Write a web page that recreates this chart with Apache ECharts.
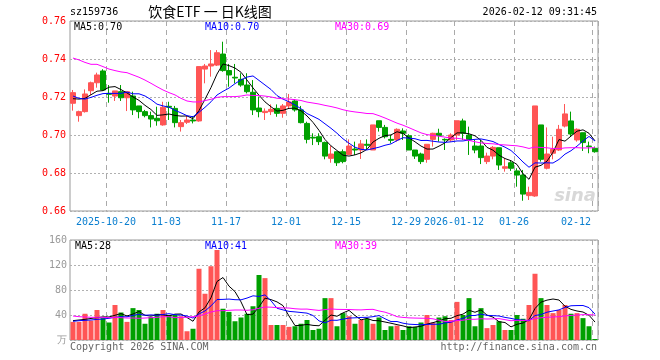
<!DOCTYPE html>
<html><head><meta charset="utf-8">
<script src="https://cdn.jsdelivr.net/npm/echarts@6/dist/echarts.min.js"></script>
<style>html,body{margin:0;padding:0;background:#fff}#c{width:660px;height:360px}</style>
</head><body><div id="c"></div>
<script>
const dates = [
 '2025-10-10','2025-10-13','2025-10-14','2025-10-15','2025-10-16','2025-10-17','2025-10-20','2025-10-21','2025-10-22','2025-10-23','2025-10-24','2025-10-27','2025-10-28','2025-10-29','2025-10-30','2025-10-31',
 '2025-11-03','2025-11-04','2025-11-05','2025-11-06','2025-11-07','2025-11-10','2025-11-11','2025-11-12','2025-11-13','2025-11-14','2025-11-17','2025-11-18','2025-11-19','2025-11-20','2025-11-21','2025-11-24','2025-11-25','2025-11-26','2025-11-27','2025-11-28',
 '2025-12-01','2025-12-02','2025-12-03','2025-12-04','2025-12-05','2025-12-08','2025-12-09','2025-12-10','2025-12-11','2025-12-12','2025-12-15','2025-12-16','2025-12-17','2025-12-18','2025-12-19','2025-12-22','2025-12-23','2025-12-24','2025-12-25','2025-12-26','2025-12-29','2025-12-30','2025-12-31',
 '2026-01-05','2026-01-06','2026-01-07','2026-01-08','2026-01-09','2026-01-12','2026-01-13','2026-01-14','2026-01-15','2026-01-16','2026-01-19','2026-01-20','2026-01-21','2026-01-22','2026-01-23','2026-01-26','2026-01-27','2026-01-28','2026-01-29','2026-01-30',
 '2026-02-02','2026-02-03','2026-02-04','2026-02-05','2026-02-06','2026-02-09','2026-02-10','2026-02-11','2026-02-12'
];
const opens = [0.7167,0.7102,0.7123,0.7233,0.7275,0.7337,0.7219,0.7205,0.7228,0.7196,0.7205,0.7153,0.7123,0.7102,0.7088,0.7053,0.7151,0.7140,0.7044,0.7067,
 0.7079,0.7074,0.7347,0.7363,0.7368,0.7426,0.7339,0.7304,0.7293,0.7263,0.7225,0.7142,0.7118,0.7123,0.7140,0.7114,0.7153,0.7179,0.7132,0.7061,
 0.6988,0.6991,0.6961,0.6877,0.6912,0.6912,0.6898,0.6926,0.6921,0.6951,0.6921,0.7075,0.7040,0.6977,0.6974,0.7021,0.6996,0.6921,0.6900,0.6872,
 0.6977,0.7009,0.6977,0.6974,0.7000,0.7074,0.7000,0.6942,0.6942,0.6860,0.6889,0.6933,0.6825,0.6854,0.6811,0.6789,0.6681,0.6679,0.7053,0.6825,
 0.6904,0.6921,0.7047,0.7074,0.6974,0.7012,0.6942,0.6930];
const closes = [0.7223,0.7123,0.7216,0.7275,0.7316,0.7237,0.7214,0.7232,0.7196,0.7228,0.7132,0.7123,0.7102,0.7084,0.7075,0.7146,0.7146,0.7065,0.7065,0.7079,
 0.7074,0.7360,0.7363,0.7374,0.7433,0.7339,0.7316,0.7300,0.7263,0.7228,0.7132,0.7123,0.7125,0.7135,0.7114,0.7153,0.7174,0.7132,0.7065,0.6977,
 0.6984,0.6965,0.6889,0.6900,0.6854,0.6860,0.6942,0.6921,0.6953,0.6946,0.7053,0.7040,0.6991,0.6972,0.7030,0.7009,0.6921,0.6889,0.6860,0.6951,
 0.7009,0.6998,0.6974,0.7000,0.7075,0.7009,0.6974,0.6921,0.6881,0.6889,0.6935,0.6842,0.6833,0.6825,0.6789,0.6689,0.6698,0.7153,0.6872,0.6900,
 0.6925,0.7030,0.7111,0.7005,0.7030,0.6960,0.6939,0.6912];
const lows = [0.7128,0.7070,0.7118,0.7211,0.7249,0.7233,0.7170,0.7179,0.7179,0.7126,0.7105,0.7088,0.7093,0.7040,0.7049,0.7049,0.7079,0.7040,0.7018,0.7058,
 0.7061,0.7070,0.7272,0.7307,0.7363,0.7333,0.7254,0.7272,0.7254,0.7219,0.7105,0.7093,0.7079,0.7105,0.7096,0.7091,0.7140,0.7123,0.7061,0.6956,
 0.6947,0.6947,0.6872,0.6854,0.6837,0.6851,0.6895,0.6895,0.6874,0.6921,0.6921,0.7018,0.6982,0.6956,0.6965,0.6974,0.6921,0.6874,0.6847,0.6854,
 0.6939,0.6965,0.6921,0.6965,0.6974,0.6974,0.6895,0.6904,0.6847,0.6847,0.6872,0.6816,0.6807,0.6811,0.6728,0.6654,0.6658,0.6675,0.6860,0.6819,
 0.6872,0.6916,0.7040,0.6991,0.6965,0.6916,0.6904,0.6907];
const highs = [0.7237,0.7128,0.7240,0.7281,0.7328,0.7346,0.7263,0.7232,0.7263,0.7228,0.7228,0.7153,0.7132,0.7123,0.7149,0.7175,0.7175,0.7153,0.7079,0.7105,
 0.7100,0.7360,0.7374,0.7447,0.7447,0.7491,0.7374,0.7374,0.7325,0.7325,0.7289,0.7202,0.7140,0.7161,0.7161,0.7163,0.7216,0.7188,0.7153,0.7070,
 0.7009,0.7009,0.6965,0.6942,0.6912,0.6924,0.6977,0.6965,0.6974,0.6977,0.7053,0.7075,0.7053,0.7000,0.7035,0.7035,0.7004,0.6921,0.6907,0.6951,
 0.7012,0.7033,0.6982,0.7009,0.7075,0.7086,0.7044,0.6974,0.6974,0.6907,0.6942,0.6933,0.6877,0.6868,0.6825,0.6816,0.6728,0.7153,0.7053,0.7040,
 0.6991,0.7053,0.7163,0.7123,0.7035,0.7012,0.6965,0.6939];
const volumes = [29,29,42,31,48,35,28,56,44,29,51,48,26,37,42,48,40,40,38,14,
 18,114,74,118,144,50,45,30,36,42,54,104,99,24,24,24,21,22,26,32,
 16,18,67,67,22,43,38,26,32,34,26,36,16,22,23,16,22,21,28,40,
 28,36,38,32,61,40,67,22,51,19,24,30,16,16,40,34,56,106,67,56,
 43,48,56,42,43,35,22,1.6];
// moving-average values before enough history is visible
const ma5Head = [0.7191,0.7189,0.7193,0.7212];
const ma10Head = [0.7205,0.7193,0.7189,0.7198,0.7209,0.7218,0.7219,0.7219,0.7219];
const ma30Head = [0.7405,0.7395,0.7382,0.7372,0.7372,0.7360,0.7347,0.7339,0.7332,0.7328,0.7316,0.7304,0.7289,0.7272,0.7254,0.7237,0.7223,0.7211,0.7193,0.7179,
 0.7174,0.7174,0.7181,0.7188,0.7198,0.7202,0.7202,0.7202,0.7205];
const volMa5Head = [31,32,33,34.5];
const volMa10Head = [29.9,30.9,31.5,32,33,33.6,34.7,36.3,37.3];
const volMa30Head = [38.4,37.3,36.8,36.3,36.3,36.3,35.7,36.3,35.7,35.2,35.2,34.7,35.2,35.7,36.3,37.3,37.3,35.7,36.3,36.3,
 37.3,38.4,41.6,44.8,46.9,46.9,47.5,48.0,48.0];
const tickDates = ['2025-10-20','2025-11-03','2025-11-17','2025-12-01','2025-12-15','2025-12-29','2026-01-12','2026-01-26','2026-02-12'];
const tickTexts = ['2025-10-20','11-03','11-17','12-01','12-15','12-29','2026-01-12','01-26','02-12'];
const priceLegend = ['MA5:0.70','MA10:0.70','MA30:0.69'];
const volLegend = ['MA5:28','MA10:41','MA30:39'];
const titleCode = 'sz159736';
const titleText = '饮食ETF 一 日K线图';
const timeText = '2026-02-12 09:31:45';

const RED = '#ff5555', GREEN = '#00a000';
const MONO = '"DejaVu Sans Mono", monospace';
function movingAvg(vals, n, head) {
  return vals.map((v, i) => {
    if (i < n - 1) return head[i];
    let s = 0; for (let k = i - n + 1; k <= i; k++) s += vals[k];
    return +(s / n).toFixed(5);
  });
}
const tickIdx = tickDates.map(d => dates.indexOf(d));
const isTick = i => tickIdx.indexOf(i) >= 0;
const lastIdx = dates.length - 1;
const candleData = dates.map((d, i) => [opens[i], closes[i], lows[i], highs[i]]);
const volData = volumes.map((v, i) => ({value: v, itemStyle: {color: closes[i] >= opens[i] ? RED : GREEN}}));

const vDash = {show: true, interval: (i) => isTick(i), lineStyle: {color: '#aaa', type: [5, 4], width: 1}};
const hDot = {show: true, lineStyle: {color: '#b0b0b0', type: [2, 2], width: 1}};
const lineS = (name, data, color, xi, yi) => ({name, type: 'line', data, xAxisIndex: xi, yAxisIndex: yi, symbol: 'none', smooth: false,
  lineStyle: {color, width: 1}, itemStyle: {color}, silent: true, animation: false, z: 5});

const chart = echarts.init(document.getElementById('c'), null, {renderer: 'canvas'});
chart.setOption({
  animation: false,
  backgroundColor: '#fff',
  grid: [
    {left: 70, top: 21, width: 528, height: 190, show: true, borderColor: '#999', borderWidth: 1, backgroundColor: 'transparent'},
    {left: 70, top: 240, width: 528, height: 100, show: true, borderColor: '#999', borderWidth: 1, backgroundColor: 'transparent'}
  ],
  xAxis: [
    {type: 'category', gridIndex: 0, data: dates, boundaryGap: true,
     axisLine: {show: false}, axisTick: {show: false}, splitLine: vDash,
     axisLabel: {show: true, interval: (i) => isTick(i), color: '#0a7fd0', fontFamily: MONO, fontSize: 10, margin: 6,
       formatter: (v, i) => { const t = tickTexts[tickIdx.indexOf(i)]; return i === lastIdx ? '{b|' + t + '}' : '{a|' + t + '}'; },
       rich: {a: {padding: [0, 6, 0, 0], color: '#0a7fd0', fontFamily: MONO, fontSize: 10},
              b: {padding: [0, 38, 0, 0], color: '#0a7fd0', fontFamily: MONO, fontSize: 10}}}},
    {type: 'category', gridIndex: 1, data: dates, boundaryGap: true,
     axisLine: {show: false}, axisTick: {show: false}, axisLabel: {show: false}, splitLine: vDash}
  ],
  yAxis: [
    {type: 'value', gridIndex: 0, min: 0.66, max: 0.76, interval: 0.02, scale: true,
     axisLine: {show: false}, axisTick: {show: false}, splitLine: hDot,
     axisLabel: {color: '#ff0000', fontFamily: MONO, fontSize: 10, margin: 4, formatter: v => v.toFixed(2)}},
    {type: 'value', gridIndex: 1, min: 0, max: 160, interval: 40,
     axisLine: {show: false}, axisTick: {show: false}, splitLine: hDot,
     axisLabel: {color: '#999', fontFamily: MONO, fontSize: 10, margin: 3, formatter: v => v === 0 ? '万' : String(v)}}
  ],
  series: [
    {type: 'candlestick', xAxisIndex: 0, yAxisIndex: 0, data: candleData, barWidth: 5, silent: true,
     itemStyle: {color: RED, color0: GREEN, borderColor: RED, borderColor0: GREEN, borderWidth: 1}},
    lineS('MA5', movingAvg(closes, 5, ma5Head), '#000', 0, 0),
    lineS('MA10', movingAvg(closes, 10, ma10Head), '#0000ff', 0, 0),
    lineS('MA30', movingAvg(closes, 30, ma30Head), '#ff00ff', 0, 0),
    {type: 'bar', xAxisIndex: 1, yAxisIndex: 1, data: volData, barWidth: 5, silent: true},
    lineS('VMA5', movingAvg(volumes, 5, volMa5Head), '#000', 1, 1),
    lineS('VMA10', movingAvg(volumes, 10, volMa10Head), '#0000ff', 1, 1),
    lineS('VMA30', movingAvg(volumes, 30, volMa30Head), '#ff00ff', 1, 1)
  ],
  graphic: [
    {type: 'text', x: 70, y: 12, style: {text: titleCode, fill: '#000', font: '10px ' + MONO, textVerticalAlign: 'middle', verticalAlign: 'middle'}},
    {type: 'text', x: 210, y: 12, style: {text: titleText, fill: '#000', font: '14px "Noto Sans CJK SC"', textAlign: 'center', align: 'center', textVerticalAlign: 'middle', verticalAlign: 'middle'}},
    {type: 'text', x: 597, y: 12, style: {text: timeText, fill: '#000', font: '10px ' + MONO, textAlign: 'right', align: 'right', textVerticalAlign: 'middle', verticalAlign: 'middle'}},
    {type: 'text', x: 74, y: 27, z: 10, style: {text: priceLegend[0], fill: '#000', font: '10px ' + MONO, textVerticalAlign: 'middle', verticalAlign: 'middle'}},
    {type: 'text', x: 205, y: 27, z: 10, style: {text: priceLegend[1], fill: '#0000ff', font: '10px ' + MONO, textVerticalAlign: 'middle', verticalAlign: 'middle'}},
    {type: 'text', x: 335, y: 27, z: 10, style: {text: priceLegend[2], fill: '#ff00ff', font: '10px ' + MONO, textVerticalAlign: 'middle', verticalAlign: 'middle'}},
    {type: 'text', x: 75, y: 246, z: 10, style: {text: volLegend[0], fill: '#000', font: '10px ' + MONO, textVerticalAlign: 'middle', verticalAlign: 'middle'}},
    {type: 'text', x: 205, y: 246, z: 10, style: {text: volLegend[1], fill: '#0000ff', font: '10px ' + MONO, textVerticalAlign: 'middle', verticalAlign: 'middle'}},
    {type: 'text', x: 335, y: 246, z: 10, style: {text: volLegend[2], fill: '#ff00ff', font: '10px ' + MONO, textVerticalAlign: 'middle', verticalAlign: 'middle'}},
    {type: 'text', x: 70, y: 347, style: {text: 'Copyright 2026 SINA.COM', fill: '#666', font: '10px ' + MONO, textVerticalAlign: 'middle', verticalAlign: 'middle'}},
    {type: 'text', x: 597, y: 347, style: {text: 'http://finance.sina.com.cn', fill: '#666', font: '10px ' + MONO, textAlign: 'right', align: 'right', textVerticalAlign: 'middle', verticalAlign: 'middle'}},
    {type: 'text', x: 596, y: 196, z: 1, style: {text: 'sina', fill: '#d8d8d8', font: 'italic bold 18px "DejaVu Sans"', textAlign: 'right', align: 'right', textVerticalAlign: 'middle', verticalAlign: 'middle'}}
  ]
});
</script></body></html>
